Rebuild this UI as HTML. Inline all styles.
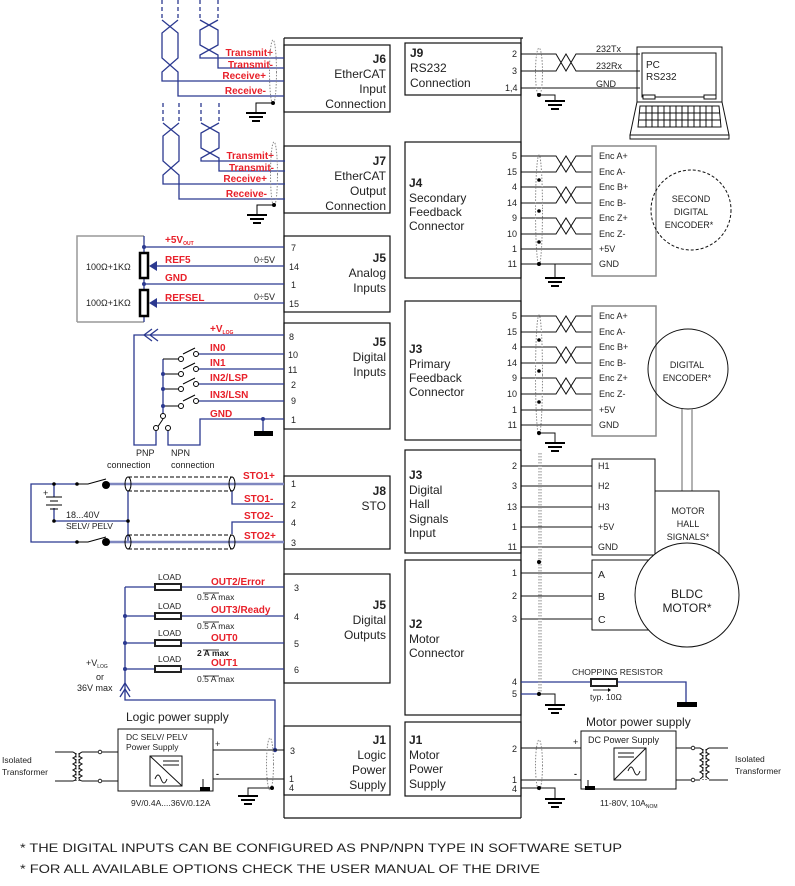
<!DOCTYPE html>
<html><head><meta charset="utf-8"><style>
html,body{margin:0;padding:0;background:#fff}
svg{display:block}
text{font-family:"Liberation Sans",Arial,sans-serif}
.r{fill:#e8202a;font-weight:bold;font-size:10px}
.n{font-size:9px;fill:#222}
.t{font-size:12px;fill:#222}
.s{font-size:8.5px;fill:#222}
</style></head><body>
<svg width="795" height="886" viewBox="0 0 795 886" xmlns="http://www.w3.org/2000/svg">
<defs>
<g id="gnd"><line x1="-10" y1="0" x2="10" y2="0" stroke="#000" stroke-width="2"/><line x1="-7" y1="4" x2="7" y2="4" stroke="#000" stroke-width="2"/><line x1="-4" y1="8" x2="4" y2="8" stroke="#000" stroke-width="2"/></g>
</defs>
<g fill="none" stroke="#111" stroke-width="1.2">
<line x1="284" y1="38" x2="284" y2="818"/><line x1="521" y1="38" x2="521" y2="818"/>
<line x1="284" y1="38" x2="523" y2="38"/><line x1="284" y1="818" x2="521" y2="818"/>
<rect x="284" y="45" width="106" height="67"/>
<rect x="284" y="146" width="106" height="67"/>
<rect x="284" y="236" width="106" height="76"/>
<rect x="284" y="323" width="106" height="106"/>
<rect x="284" y="476" width="106" height="73"/>
<rect x="284" y="574" width="106" height="109"/>
<rect x="284" y="726" width="106" height="69"/>
<rect x="405" y="43" width="116" height="52"/>
<rect x="405" y="142" width="116" height="136"/>
<rect x="405" y="301" width="116" height="139"/>
<rect x="405" y="450" width="116" height="103"/>
<rect x="405" y="560" width="116" height="155"/>
<rect x="405" y="722" width="116" height="74"/>
</g>

<g class="t" text-anchor="end">
<text x="386" y="63" font-weight="bold">J6</text><text x="386" y="78">EtherCAT</text><text x="386" y="93">Input</text><text x="386" y="108">Connection</text>
<text x="386" y="165" font-weight="bold">J7</text><text x="386" y="180">EtherCAT</text><text x="386" y="195">Output</text><text x="386" y="210">Connection</text>
<text x="386" y="262" font-weight="bold">J5</text><text x="386" y="277">Analog</text><text x="386" y="292">Inputs</text>
<text x="386" y="346" font-weight="bold">J5</text><text x="386" y="361">Digital</text><text x="386" y="376">Inputs</text>
<text x="386" y="495" font-weight="bold">J8</text><text x="386" y="510">STO</text>
<text x="386" y="609" font-weight="bold">J5</text><text x="386" y="624">Digital</text><text x="386" y="639">Outputs</text>
<text x="386" y="744" font-weight="bold">J1</text><text x="386" y="759">Logic</text><text x="386" y="774">Power</text><text x="386" y="789">Supply</text>
</g>
<g class="t">
<text x="410" y="57" font-weight="bold">J9</text><text x="410" y="72">RS232</text><text x="410" y="87">Connection</text>
<text x="409" y="187" font-weight="bold">J4</text><text x="409" y="202">Secondary</text><text x="409" y="216">Feedback</text><text x="409" y="230">Connector</text>
<text x="409" y="353" font-weight="bold">J3</text><text x="409" y="368">Primary</text><text x="409" y="382">Feedback</text><text x="409" y="396">Connector</text>
<text x="409" y="479" font-weight="bold">J3</text><text x="409" y="494">Digital</text><text x="409" y="508">Hall</text><text x="409" y="523">Signals</text><text x="409" y="537">Input</text>
<text x="409" y="628" font-weight="bold">J2</text><text x="409" y="643">Motor</text><text x="409" y="657">Connector</text>
<text x="409" y="744" font-weight="bold">J1</text><text x="409" y="759">Motor</text><text x="409" y="773">Power</text><text x="409" y="788">Supply</text>
</g>

<g stroke="#2b3990" stroke-width="1.3" fill="none">
<g id="eth">
<path d="M162 0V20M178 0V20M200 0V20M218 0V20" stroke-dasharray="4,3"/>
<path d="M162 20L178 33V58L162 72V81H284"/>
<path d="M178 20L162 33V58L178 72V96H284"/>
<path d="M200 20L218 30V45L200 55V58H284"/>
<path d="M218 20L200 30V45L218 55V68H284"/>
</g>
<use href="#eth" transform="translate(1,103)"/>
</g>
<g class="r" text-anchor="end">
<text x="273" y="56">Transmit+</text><text x="273" y="68">Transmit-</text><text x="266" y="79">Receive+</text><text x="266" y="94">Receive-</text>
<text x="274" y="159">Transmit+</text><text x="274" y="171">Transmit-</text><text x="267" y="182">Receive+</text><text x="267" y="197">Receive-</text>
</g>
<g fill="none" stroke="#888" stroke-width="1" stroke-dasharray="1.5,1.5">
<ellipse cx="273" cy="72" rx="3.5" ry="32"/><ellipse cx="274" cy="174" rx="3.5" ry="32"/>
</g>
<g stroke="#000" fill="none"><path d="M273 103H256V112"/><path d="M274 205H257V214"/></g>
<circle cx="273" cy="103" r="2"/><circle cx="274" cy="205" r="2"/>
<use href="#gnd" x="256" y="113"/><use href="#gnd" x="257" y="215"/>

<path d="M77 322V236H144M77 322H144" stroke="#999" stroke-width="1.5" fill="none"/>
<g stroke="#2b3990" stroke-width="1.3" fill="none">
<path d="M144 236V322"/>
<path d="M144 247H284M144 284H284M152 266H284M152 303H284"/>
</g>
<g fill="#2b3990"><circle cx="144" cy="247" r="2"/><circle cx="144" cy="284" r="2"/>
<path d="M149 266l8-5v10z"/><path d="M149 303l8-5v10z"/></g>
<rect x="140" y="253" width="8" height="25" fill="#fff" stroke="#000" stroke-width="2.5"/>
<rect x="140" y="290" width="8" height="26" fill="#fff" stroke="#000" stroke-width="2.5"/>
<g class="n" font-size="10"><text x="86" y="270">100Ω+1KΩ</text><text x="86" y="306">100Ω+1KΩ</text>
<text x="254" y="263">0÷5V</text><text x="254" y="300">0÷5V</text></g>
<g class="r"><text x="165" y="243">+5V<tspan font-size="5" dy="2">OUT</tspan></text><text x="165" y="263">REF5</text><text x="165" y="281">GND</text><text x="165" y="301">REFSEL</text></g>
<g class="n" font-size="10"><text x="291" y="251">7</text><text x="289" y="270">14</text><text x="291" y="288">1</text><text x="289" y="307">15</text></g>

<g stroke="#2b3990" stroke-width="1.3" fill="none">
<path d="M284 335H134V445H156V431"/>
<path d="M150 335l8-6M150 335l8 6M144 335l8-6M144 335l8 6"/>
<path d="M284 354H199M284 369H199M284 384H199M284 401H199"/>
<path d="M284 419H200V445H168V431"/>
<path d="M163 359V413"/>
<path d="M263 419V431"/>
</g>
<g stroke="#000" stroke-width="1" fill="none">
<path d="M163 359H178M163 374H178M163 389H178M163 406H178"/>
<path d="M183 354l12-6M183 369l12-6M183 384l12-6M183 401l12-6"/>
<path d="M163 413V416M163 419L157 428"/>
</g>
<g fill="#fff" stroke="#000" stroke-width="1">
<circle cx="181" cy="359" r="2.5"/><circle cx="196" cy="354" r="2.5"/>
<circle cx="181" cy="374" r="2.5"/><circle cx="196" cy="369" r="2.5"/>
<circle cx="181" cy="389" r="2.5"/><circle cx="196" cy="384" r="2.5"/>
<circle cx="181" cy="406" r="2.5"/><circle cx="196" cy="401" r="2.5"/>
<circle cx="163" cy="416" r="2.5"/><circle cx="156" cy="428" r="2.5"/><circle cx="168" cy="428" r="2.5"/>
</g>
<g fill="#2b3990"><circle cx="163" cy="374" r="2"/><circle cx="163" cy="389" r="2"/><circle cx="163" cy="406" r="2"/><circle cx="263" cy="419" r="2"/></g>
<rect x="254" y="431" width="19" height="5" fill="#000"/>
<g class="r"><text x="210" y="332">+V<tspan font-size="5" dy="2">LOG</tspan></text><text x="210" y="351">IN0</text><text x="210" y="366">IN1</text><text x="210" y="381">IN2/LSP</text><text x="210" y="398">IN3/LSN</text><text x="210" y="417">GND</text></g>
<g class="n" font-size="10"><text x="289" y="340">8</text><text x="288" y="358">10</text><text x="288" y="373">11</text><text x="291" y="388">2</text><text x="291" y="404">9</text><text x="291" y="423">1</text>
<text x="136" y="456">PNP</text><text x="107" y="468">connection</text><text x="171" y="456">NPN</text><text x="171" y="468">connection</text></g>

<g stroke="#2b3990" stroke-width="1.3" fill="none">
<path d="M77 484H31V542H77"/>
<path d="M54 484V497M54 508V521H128"/>
<path d="M128 491V542"/>
<path d="M232 491V504H284M232 534V522H284"/>
</g>
<path d="M106 484H284M106 542H284" stroke="#7f87c0" stroke-width="2.5"/>
<g stroke="#000" stroke-width="1" fill="none">
<path d="M77 484H88l18-5M77 542H88l18-5"/>
<path d="M46 497h16M50 501h8M46 505h16M50 509h8"/>
<path d="M128 477H232M128 491H232M128 535H232M128 549H232" stroke-dasharray="4,2"/>
<ellipse cx="128" cy="484" rx="3" ry="7"/><ellipse cx="232" cy="484" rx="3" ry="7"/>
<ellipse cx="128" cy="542" rx="3" ry="7"/><ellipse cx="232" cy="542" rx="3" ry="7"/>
</g>
<g fill="#000"><circle cx="106" cy="485" r="4"/><circle cx="106" cy="542" r="4"/><circle cx="77" cy="484" r="1.8"/><circle cx="77" cy="542" r="1.8"/><circle cx="54" cy="484" r="1.8"/><circle cx="54" cy="521" r="1.8"/><circle cx="128" cy="521" r="1.8"/></g>
<text x="43" y="496" class="n">+</text>
<text x="66" y="518" class="n" font-size="10">18...40V</text><text x="66" y="529" class="s">SELV/ PELV</text>
<g class="r" font-size="11"><text x="243" y="479">STO1+</text><text x="244" y="502">STO1-</text><text x="244" y="519">STO2-</text><text x="244" y="539">STO2+</text></g>
<g class="n" font-size="10"><text x="291" y="487">1</text><text x="291" y="508">2</text><text x="291" y="526">4</text><text x="291" y="546">3</text></g>

<g stroke="#2b3990" stroke-width="1.3" fill="none">
<path d="M125 587H284M125 616H284M125 643H284M125 669H284"/>
<path d="M125 587V700H275V750"/>
<path d="M125 683l-5 8M125 683l5 8M125 689l-5 8M125 689l5 8"/>
</g>
<g fill="#2b3990"><circle cx="125" cy="616" r="2"/><circle cx="125" cy="643" r="2"/><circle cx="125" cy="669" r="2"/><circle cx="275" cy="750" r="2.2"/></g>
<g fill="#fff" stroke="#222" stroke-width="2"><rect x="155" y="584" width="26" height="6"/><rect x="155" y="613" width="26" height="6"/><rect x="155" y="640" width="26" height="6"/><rect x="155" y="666" width="26" height="6"/></g>
<g class="s" font-size="7.5"><text x="158" y="580">LOAD</text><text x="158" y="609">LOAD</text><text x="158" y="636">LOAD</text><text x="158" y="662">LOAD</text>
<text x="197" y="600">0.5 A max</text><text x="197" y="629">0.5 A max</text><text x="197" y="656" font-weight="bold">2 A max</text><text x="197" y="682">0.5 A max</text></g>
<g stroke="#000" stroke-width="0.8"><path d="M203 593h16M203 622h16M203 650h16M203 676h16"/></g>
<g class="r"><text x="211" y="585">OUT2/Error</text><text x="211" y="613">OUT3/Ready</text><text x="211" y="641">OUT0</text><text x="211" y="666">OUT1</text></g>
<g class="n" font-size="10"><text x="294" y="591">3</text><text x="294" y="620">4</text><text x="294" y="647">5</text><text x="294" y="673">6</text>
<text x="86" y="666">+V<tspan font-size="5" dy="2">LOG</tspan></text><text x="96" y="680">or</text><text x="77" y="691">36V max</text></g>

<text x="126" y="721" class="t">Logic power supply</text>
<rect x="118" y="729" width="95" height="62" fill="none" stroke="#111"/>
<text x="126" y="740" class="s">DC SELV/ PELV</text><text x="126" y="750" class="s">Power Supply</text>
<g fill="none" stroke="#111"><rect x="150" y="756" width="32" height="30"/><path d="M150 756L182 786M163 761h16M163 765h16M155 779q3-8 6 0t6 0"/>
<path d="M213 750H284M213 779H284M203 779V789M273 788H248V795"/>
<path d="M55 752H73M55 781H73M82 752H118M82 781H118"/>
<path d="M73 752q6 3 0 6q6 3 0 6q6 3 0 6q6 3 0 6q6 3 0 5M82 752q-6 3 0 6q-6 3 0 6q-6 3 0 6q-6 3 0 6q-6 3 0 5"/>
<path d="M76 753V781M79 753V781" stroke-dasharray="1.5,1.5"/>
</g>
<rect x="200" y="787" width="10" height="4" fill="#000"/>
<g fill="#fff" stroke="#000" stroke-width="0.8"><circle cx="100" cy="752" r="1.8"/><circle cx="100" cy="781" r="1.8"/></g>
<ellipse cx="270" cy="764" rx="3.5" ry="26" fill="none" stroke="#888" stroke-dasharray="1.5,1.5"/>
<circle cx="272" cy="788" r="2"/>
<use href="#gnd" x="248" y="796"/>
<text x="215" y="747" class="n">+</text><text x="216" y="777" class="n" font-weight="bold">-</text>
<g class="n" font-size="10"><text x="290" y="754">3</text><text x="289" y="782">1</text><text x="289" y="791">4</text></g>
<text x="131" y="806" class="s" font-size="9">9V/0.4A....36V/0.12A</text>
<g class="s" font-size="9"><text x="2" y="763">Isolated</text><text x="2" y="775">Transformer</text></g>

<g fill="none" stroke="#111" stroke-width="1">
<path d="M521 54H556L566 71L576 54H640M521 71H556L566 54L576 71H640M521 88H640"/>
<rect x="637" y="47" width="85" height="55"/><rect x="642" y="53" width="74" height="44"/>
<path d="M637 102L630 135H729L722 102Z"/><rect x="630" y="135" width="99" height="4"/>
<rect x="643" y="95" width="12" height="4" fill="#fff"/><rect x="704" y="95" width="12" height="4" fill="#fff"/>
<path d="M640 106H719L721 127H638Z"/>
<path d="M639 113H720M639 120H721"/>
<path d="M646 106v21M652 106v21M658 106v21M664 106v21M670 106v21M676 106v21M682 106v21M688 106v21M694 106v21M700 106v21M706 106v21M712 106v21"/>
<path d="M539 95H555V100"/>
</g>
<ellipse cx="539" cy="72" rx="3.5" ry="24" fill="none" stroke="#888" stroke-dasharray="1.5,1.5"/>
<circle cx="539" cy="95" r="2"/><use href="#gnd" x="555" y="101"/>
<g class="n"><text x="512" y="57">2</text><text x="512" y="74">3</text><text x="505" y="91">1,4</text>
<text x="596" y="52">232Tx</text><text x="596" y="69">232Rx</text><text x="596" y="87">GND</text>
<text x="646" y="68" font-size="10">PC</text><text x="646" y="80" font-size="10">RS232</text></g>

<g fill="none" stroke="#111" stroke-width="1">
<path d="M521 156H556L566 172L576 156H592M521 172H556L566 156L576 172H592"/>
<path d="M521 187H556L566 203L576 187H592M521 203H556L566 187L576 203H592"/>
<path d="M521 218H556L566 234L576 218H592M521 234H556L566 218L576 234H592"/>
<path d="M521 249H592M521 264H592M539 264H555V277"/>
<rect x="592" y="146" width="64" height="130" stroke="#888" stroke-width="1.5"/>
<circle cx="691" cy="210" r="40" stroke-dasharray="3,2"/>
</g>
<ellipse cx="539" cy="210" rx="3.5" ry="55" fill="none" stroke="#888" stroke-dasharray="1.5,1.5"/>
<g><circle cx="539" cy="180" r="1.8"/><circle cx="539" cy="211" r="1.8"/><circle cx="539" cy="242" r="1.8"/><circle cx="539" cy="264" r="2"/></g>
<use href="#gnd" x="555" y="278"/>
<g class="n" text-anchor="end"><text x="517" y="159">5</text><text x="517" y="175">15</text><text x="517" y="190">4</text><text x="517" y="206">14</text><text x="517" y="221">9</text><text x="517" y="237">10</text><text x="517" y="252">1</text><text x="517" y="267">11</text></g>
<g class="n"><text x="599" y="159">Enc A+</text><text x="599" y="175">Enc A-</text><text x="599" y="190">Enc B+</text><text x="599" y="206">Enc B-</text><text x="599" y="221">Enc Z+</text><text x="599" y="237">Enc Z-</text><text x="599" y="252">+5V</text><text x="599" y="267">GND</text></g>
<g class="n" font-size="10.5" text-anchor="middle"><text x="691" y="202">SECOND</text><text x="691" y="215">DIGITAL</text><text x="689" y="228">ENCODER*</text></g>

<g fill="none" stroke="#111" stroke-width="1">
<path d="M521 316H556L566 332L576 316H592M521 332H556L566 316L576 332H592"/>
<path d="M521 347H556L566 363L576 347H592M521 363H556L566 347L576 363H592"/>
<path d="M521 378H556L566 394L576 378H592M521 394H556L566 378L576 394H592"/>
<path d="M521 410H592M521 425H592M539 433H555V442"/>
<rect x="592" y="306" width="64" height="130" stroke="#888" stroke-width="1.5"/>
<circle cx="688" cy="369" r="40"/>
<path d="M682 409V491M692 409V491" stroke="#999" stroke-width="1.5"/>
</g>
<ellipse cx="539" cy="375" rx="3.5" ry="60" fill="none" stroke="#888" stroke-dasharray="1.5,1.5"/>
<g><circle cx="539" cy="340" r="1.8"/><circle cx="539" cy="371" r="1.8"/><circle cx="539" cy="402" r="1.8"/><circle cx="539" cy="433" r="2"/></g>
<use href="#gnd" x="555" y="443"/>
<g class="n" text-anchor="end"><text x="517" y="319">5</text><text x="517" y="335">15</text><text x="517" y="350">4</text><text x="517" y="366">14</text><text x="517" y="381">9</text><text x="517" y="397">10</text><text x="517" y="413">1</text><text x="517" y="428">11</text></g>
<g class="n"><text x="599" y="319">Enc A+</text><text x="599" y="335">Enc A-</text><text x="599" y="350">Enc B+</text><text x="599" y="366">Enc B-</text><text x="599" y="381">Enc Z+</text><text x="599" y="397">Enc Z-</text><text x="599" y="413">+5V</text><text x="599" y="428">GND</text></g>
<g class="n" font-size="10.5" text-anchor="middle"><text x="687" y="368">DIGITAL</text><text x="687" y="381">ENCODER*</text></g>

<g fill="none" stroke="#111" stroke-width="1">
<path d="M521 466H592M521 486H592M521 507H592M521 527H592M521 547H592"/>
<rect x="592" y="459" width="63" height="96"/>
<rect x="655" y="491" width="64" height="64"/>
<path d="M521 573H592M521 596H592M521 619H592"/>
<rect x="592" y="560" width="60" height="70"/>
<circle cx="687" cy="595" r="52" fill="#fff"/>
<path d="M521 682H590M617 682H686V702" stroke="#2b3990" stroke-width="1.3"/>
<path d="M521 694H555V704" /><path d="M521 694H539" stroke="#2b3990" stroke-width="1.3"/>
</g>
<path d="M539 453V694" fill="none" stroke="#888" stroke-dasharray="1.5,1.5" stroke-width="1"/>
<path d="M541 453V694" fill="none" stroke="#888" stroke-dasharray="1.5,1.5" stroke-width="1"/>
<circle cx="539" cy="562" r="2"/><circle cx="539" cy="694" r="2"/>
<use href="#gnd" x="555" y="705"/>
<rect x="591" y="679" width="26" height="7" fill="#fff" stroke="#222" stroke-width="2"/>
<rect x="677" y="702" width="20" height="5" fill="#000"/>
<path d="M593 690h15" stroke="#000" stroke-width="0.8"/><path d="M608 688l3 2l-3 2z"/>
<g class="s" font-size="7.5"><text x="572" y="675">CHOPPING RESISTOR</text><text x="590" y="700">typ. 10Ω</text></g>
<g class="n" text-anchor="end"><text x="517" y="469">2</text><text x="517" y="489">3</text><text x="517" y="510">13</text><text x="517" y="530">1</text><text x="517" y="550">11</text>
<text x="517" y="576">1</text><text x="517" y="599">2</text><text x="517" y="622">3</text><text x="517" y="685">4</text><text x="517" y="697">5</text></g>
<g class="n"><text x="598" y="469">H1</text><text x="598" y="489">H2</text><text x="598" y="510">H3</text><text x="598" y="530">+5V</text><text x="598" y="550">GND</text>
<text x="598" y="578" font-size="10.5">A</text><text x="598" y="600" font-size="10.5">B</text><text x="598" y="623" font-size="10.5">C</text></g>
<g class="n" font-size="10.5" text-anchor="middle"><text x="688" y="514">MOTOR</text><text x="688" y="527">HALL</text><text x="688" y="540">SIGNALS*</text></g>
<g class="t" font-size="13" text-anchor="middle"><text x="687" y="598">BLDC</text><text x="687" y="612">MOTOR*</text></g>

<text x="586" y="726" class="t">Motor power supply</text>
<rect x="581" y="731" width="95" height="58" fill="none" stroke="#111"/>
<text x="588" y="743" class="n" font-size="9.5">DC Power Supply</text>
<g fill="none" stroke="#111"><rect x="614" y="748" width="32" height="32"/><path d="M614 780L646 748M618 753h16M618 757h16M628 771q3-8 6 0t6 0"/>
<path d="M521 748H581M521 780H581M588 780V786M521 788H555V798"/>
<path d="M676 748H700M676 780H700M709 748H728M709 780H728"/>
<path d="M700 748q6 3 0 6q6 3 0 6q6 3 0 6q6 3 0 6q6 3 0 7M709 748q-6 3 0 6q-6 3 0 6q-6 3 0 6q-6 3 0 6q-6 3 0 7"/>
<path d="M703 749V780M706 749V780" stroke-dasharray="1.5,1.5"/>
</g>
<rect x="585" y="786" width="10" height="4" fill="#000"/>
<g fill="#fff" stroke="#000" stroke-width="0.8"><circle cx="693" cy="748" r="1.8"/><circle cx="693" cy="780" r="1.8"/></g>
<ellipse cx="539" cy="765" rx="3.5" ry="25" fill="none" stroke="#888" stroke-dasharray="1.5,1.5"/>
<circle cx="539" cy="788" r="2"/><use href="#gnd" x="555" y="799"/>
<text x="573" y="745" class="n">+</text><text x="574" y="777" class="n" font-weight="bold">-</text>
<g class="n" font-size="10" text-anchor="end"><text x="517" y="752">2</text><text x="517" y="783">1</text><text x="517" y="792">4</text></g>
<text x="600" y="806" class="s" font-size="9">11-80V, 10A<tspan font-size="5" dy="2">NOM</tspan></text>
<g class="s" font-size="9"><text x="735" y="762">Isolated</text><text x="735" y="774">Transformer</text></g>

<g class="t" font-size="13"><text x="20" y="852" textLength="602" lengthAdjust="spacingAndGlyphs">* THE DIGITAL INPUTS CAN BE CONFIGURED AS PNP/NPN TYPE IN SOFTWARE SETUP</text>
<text x="20" y="873" textLength="520" lengthAdjust="spacingAndGlyphs">* FOR ALL AVAILABLE OPTIONS CHECK THE USER MANUAL OF THE DRIVE</text></g>
</svg>
</body></html>
